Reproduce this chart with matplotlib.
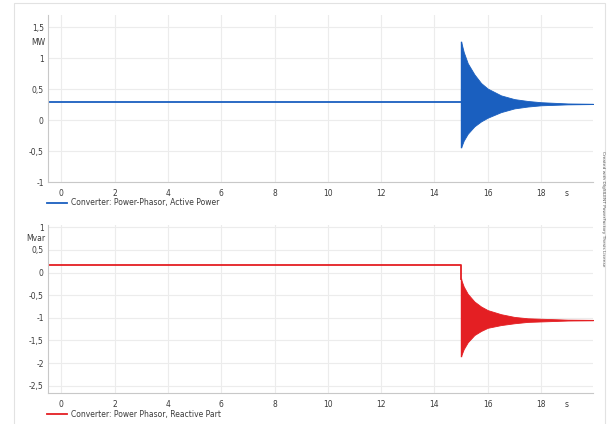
import matplotlib
matplotlib.use("Agg")
import matplotlib.pyplot as plt
from matplotlib.patches import Rectangle
from matplotlib.ticker import FixedLocator, FuncFormatter

# step time of the event and values before it
t_start = -0.5
t_event = 15.0
p_before = 0.30      # MW
q_before = 0.16      # Mvar

# envelope of the oscillation after the event
t_env = [15.0, 15.1, 15.25, 15.5, 15.75, 16.0, 16.5, 17.0, 17.5, 18.0, 19.0, 19.95]
p_upper = [1.27, 1.10, 0.92, 0.74, 0.60, 0.51, 0.40, 0.34, 0.31, 0.29, 0.27, 0.265]
p_lower = [-0.44, -0.33, -0.22, -0.10, -0.02, 0.04, 0.13, 0.19, 0.22, 0.24, 0.255, 0.26]
q_upper = [-0.15, -0.31, -0.47, -0.64, -0.75, -0.83, -0.92, -0.98, -1.01, -1.02, -1.04, -1.045]
q_lower = [-1.84, -1.69, -1.54, -1.38, -1.29, -1.22, -1.16, -1.12, -1.09, -1.08, -1.06, -1.055]

x_ticks = [0, 2, 4, 6, 8, 10, 12, 14, 16, 18]
p_ticks = [-1, -0.5, 0, 0.5, 1, 1.5]
q_ticks = [-2.5, -2, -1.5, -1, -0.5, 0, 0.5, 1]

blue = "#1a5fbf"
red = "#e41f23"
grid_c = "#ececec"
spine_c = "#c8c8c8"
txt_c = "#3a3a3a"

W, H = 609, 424
fig = plt.figure(figsize=(W / 100, H / 100), dpi=100)

# light frame round the whole chart
fig.patches.append(Rectangle((14 / W, -0.01), (605 - 14) / W, 1.01 - 3 / H,
                             transform=fig.transFigure, fill=False,
                             edgecolor="#e2e2e2", linewidth=0.8))


def comma(v, pos):
    s = ("%g" % v).replace(".", ",")
    return s


def setup(ax, yticks, ylim, unit, unit_y):
    ax.set_xlim(-0.5, 19.95)
    ax.set_ylim(*ylim)
    ax.xaxis.set_major_locator(FixedLocator(x_ticks))
    ax.yaxis.set_major_locator(FixedLocator(yticks))
    ax.yaxis.set_major_formatter(FuncFormatter(comma))
    ax.grid(True, color=grid_c, linewidth=0.8)
    ax.set_axisbelow(True)
    for s in ["top", "right"]:
        ax.spines[s].set_visible(False)
    for s in ["left", "bottom"]:
        ax.spines[s].set_color(spine_c)
        ax.spines[s].set_linewidth(0.8)
    ax.tick_params(length=0, labelsize=5.5, labelcolor=txt_c, pad=3)
    ax.tick_params(axis="x", pad=5)
    ax.text(-0.005, unit_y, unit, transform=ax.get_yaxis_transform(),
            ha="right", va="center", fontsize=5.5, color=txt_c)
    ax.annotate("s", xy=(18.97, 0), xycoords=("data", "axes fraction"),
                xytext=(0, -5), textcoords="offset points",
                ha="center", va="top", fontsize=5.5, color=txt_c)


ax1 = fig.add_axes([48 / W, 1 - 182 / H, (593 - 48) / W, (182 - 15) / H])
setup(ax1, p_ticks, (-1.0, 1.70), "MW", 1.25)
l1, = ax1.plot([t_start, t_event], [p_before, p_before], color=blue, lw=1.3,
               label="Converter: Power-Phasor, Active Power")
ax1.plot([t_event, t_event], [p_lower[0], p_upper[0]], color=blue, lw=1.0)
ax1.fill_between(t_env, p_lower, p_upper, color=blue, linewidth=0.6, edgecolor=blue)
ax1.legend(handles=[l1], loc="center left", bbox_to_anchor=(40 / W, 1 - 203 / H),
           bbox_transform=fig.transFigure, frameon=False, fontsize=5.5,
           handlelength=2.6, handletextpad=0.5, labelcolor=txt_c)

ax2 = fig.add_axes([48 / W, 1 - 393 / H, (593 - 48) / W, (393 - 225) / H])
setup(ax2, q_ticks, (-2.66, 1.05), "Mvar", 0.75)
l2, = ax2.plot([t_start, t_event, t_event], [q_before, q_before, q_upper[0]],
               color=red, lw=1.3, label="Converter: Power Phasor, Reactive Part")
ax2.plot([t_event, t_event], [q_lower[0], q_upper[0]], color=red, lw=1.0)
ax2.fill_between(t_env, q_lower, q_upper, color=red, linewidth=0.6, edgecolor=red)
ax2.legend(handles=[l2], loc="center left", bbox_to_anchor=(40 / W, 1 - 414 / H),
           bbox_transform=fig.transFigure, frameon=False, fontsize=5.5,
           handlelength=2.6, handletextpad=0.5, labelcolor=txt_c)

fig.text(603 / W, 1 - 209 / H, "Created with DIgSILENT PowerFactory Thesis License",
         rotation=270, ha="center", va="center", fontsize=3.2, color="#555555")

fig.savefig("out.png", dpi=100)
